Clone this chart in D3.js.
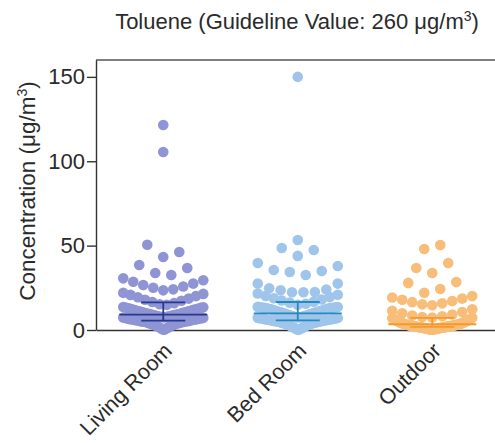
<!DOCTYPE html>
<html><head><meta charset="utf-8">
<script src="https://cdn.jsdelivr.net/npm/d3@7/dist/d3.min.js"></script>
<style>
body{margin:0;background:#fff}
svg{display:block}
text{font-family:"Liberation Sans", Arial, Helvetica, sans-serif;fill:#2a2a2a}
</style>
</head><body>
<svg id="chart" width="495" height="443"></svg>
<script>
// ---------------- data ----------------
const categories = ["Living Room", "Bed Room", "Outdoor"];

const livingRoom = [
  0.2, 0.5, 0.9, 1.2, 1.4, 1.8, 2.1, 2.3, 2.6, 2.8, 3.0, 3.3, 3.5, 3.6, 3.9, 4.0, 4.2, 4.4, 4.5, 4.7,
  4.8, 4.9, 5.0, 5.1, 5.2, 5.3, 5.4, 5.6, 5.7, 5.8, 5.9, 6.0, 6.1, 6.2, 6.3, 6.4, 6.5, 6.6, 6.8, 6.9,
  7.0, 7.1, 7.2, 7.4,
  7.5, 7.6, 7.8, 7.9, 8.1, 8.3, 8.5, 8.7, 8.9, 9.0, 9.2, 9.4, 9.5, 9.7, 9.9, 10.1, 10.3, 10.5, 10.7, 10.9,
  11.1, 11.3, 11.5, 11.7, 11.9, 12.1, 12.3, 12.5, 12.7, 12.9, 13.1, 13.3, 13.5, 13.6,
  14.9, 15.3, 15.9, 16.6, 17.3, 17.9, 18.6, 19.4, 20.1, 20.8, 21.4, 22.0,
  23.5, 24.1, 25.0, 25.8, 26.7, 27.5, 28.6, 29.5, 30.6,
  32.6, 33.8, 36.7, 38.5,
  43.3, 46.2, 50.5,
  105.5, 121.5
];

const bedRoom = [
  0.1, 0.4, 0.8, 1.1, 1.5, 1.7, 2.0, 2.4, 2.6, 2.9, 3.1, 3.4, 3.6, 3.8, 4.0, 4.2, 4.3, 4.5, 4.7, 4.8,
  5.0, 5.1, 5.2, 5.3, 5.4, 5.5, 5.6, 5.8, 5.9, 6.0, 6.1, 6.2, 6.3, 6.4, 6.6, 6.7, 6.8, 6.9, 7.0, 7.1,
  7.2, 7.4,
  7.5, 7.7, 7.8, 8.0, 8.2, 8.4, 8.6, 8.8, 9.1, 9.3, 9.5, 9.8, 10.0, 10.2, 10.4, 10.6, 10.8, 11.0, 11.2, 11.4,
  11.6, 11.8, 12.0, 12.2, 12.4, 12.6, 12.8, 12.9, 13.0, 13.1, 13.2, 13.3, 13.4, 13.5, 13.6, 13.7,
  14.9, 15.6, 16.2, 16.8, 17.5, 18.1, 18.8, 19.5, 20.2, 20.9, 21.6,
  22.4, 22.4, 22.5, 23.5, 24.0, 24.7, 27.5, 27.6,
  32.6, 34.4, 35.0, 35.6, 37.9, 39.7,
  43.9, 47.4, 48.6,
  53.3,
  150.0
];

const outdoor = [
  0.1, 0.2, 0.3, 0.3, 0.4, 0.5, 0.5, 0.6, 0.7, 0.7, 0.8, 0.9, 0.9, 1.0, 1.1, 1.1, 1.2, 1.3, 1.3, 1.4,
  1.4, 1.5, 1.5, 1.6, 1.6, 1.7, 1.7,
  1.8, 1.9, 1.9, 2.0, 2.0, 2.1, 2.1, 2.2, 2.2, 2.3, 2.3, 2.4, 2.5, 2.5, 2.6, 2.6, 2.7, 2.8, 2.8, 2.9,
  3.0, 3.0, 3.1, 3.2, 3.2, 3.3, 3.3,
  3.5, 3.6, 3.7, 3.8, 3.9, 4.0, 4.1, 4.2, 4.4, 4.5, 4.6, 4.8, 4.9, 5.0, 5.2, 5.3, 5.5, 5.6, 5.8, 5.9,
  6.1, 6.2, 6.4, 6.6, 6.8, 7.0, 7.2,
  7.4, 7.7, 8.1, 8.6, 9.2, 9.9, 10.6, 11.4, 12.3,
  14.7, 15.2, 15.8, 16.5, 17.2, 17.9, 18.6, 19.3, 20.1,
  22.1, 24.3, 27.9, 28.4,
  33.8, 36.7, 39.7,
  48.0, 50.4
];

// median and interquartile range, as drawn
const medians = [9.1, 9.9, 3.4];
const q1 = [5.5, 5.7, 1.8];
const q3 = [16.4, 16.6, 7.2];

const yTicks = [0, 50, 100, 150];

// ---------------- styles ----------------
const dotColors = ["#8f94d5", "#a0c5ea", "#f9bd7a"];
const barColors = ["#27398f", "#238ac2", "#f29b2c"];
const firstSide = [1, 1, -1];   // side of the first offset point in a row
const rowHeight = 7.3;          // value span grouped into one row of the scatter
const maxStep = 16, maxSpan = 80, dotR = 5.3;

// ---------------- chart ----------------
const svg = d3.select("#chart");
const x = d3.scalePoint().domain(categories).range([96, 499.5]).padding(0.5);
const y = d3.scaleLinear().domain([0, 160]).range([330, 60]);

// title
const title = svg.append("text")
  .attr("x", 297).attr("y", 29)
  .attr("text-anchor", "middle")
  .style("font-size", "22px");
title.append("tspan").text("Toluene (Guideline Value: 260 \u03bcg/m");
title.append("tspan").attr("dy", -8).style("font-size", "14px").text("3");
title.append("tspan").attr("dy", 8).text(")");

// y label
const yl = svg.append("text")
  .attr("transform", "translate(35,191) rotate(-90)")
  .attr("text-anchor", "middle")
  .style("font-size", "22.5px");
yl.append("tspan").text("Concentration (\u03bcg/m");
yl.append("tspan").attr("dy", -8).style("font-size", "14px").text("3");
yl.append("tspan").attr("dy", 8).text(")");

// top frame line
svg.append("line")
  .attr("x1", 96).attr("x2", 499.5)
  .attr("y1", y(160)).attr("y2", y(160))
  .attr("stroke", "#555").attr("stroke-width", 1.3);

// axes
const gy = svg.append("g").attr("transform", "translate(96,0)")
  .call(d3.axisLeft(y).tickValues(yTicks).tickSize(9).tickSizeOuter(0).tickPadding(2));
gy.selectAll("path,line").attr("stroke", "#333").attr("stroke-width", 1.4);
gy.selectAll("text").style("font-size", "22px").attr("fill", "#2a2a2a");

const gx = svg.append("g").attr("transform", "translate(0,330)")
  .call(d3.axisBottom(x).tickSize(5).tickSizeOuter(0).tickFormat(""));
gx.selectAll("path,line").attr("stroke", "#333").attr("stroke-width", 1.4);

svg.append("g").selectAll("text").data(categories).join("text")
  .attr("transform", d => `translate(${x(d) + 10},352) rotate(-45)`)
  .attr("text-anchor", "end")
  .style("font-size", "21.5px")
  .text(d => d);

// scatter layout: group sorted values into rows, spread each row horizontally
function layout(values, side) {
  const sorted = values.slice().sort((a, b) => a - b);
  const rows = [];
  let cur = null;
  for (const v of sorted) {
    if (!cur || v >= cur.start + rowHeight) { cur = { start: v, vals: [] }; rows.push(cur); }
    cur.vals.push(v);
  }
  const pts = [];
  for (const r of rows) {
    const n = r.vals.length;
    const s = n > 1 ? Math.min(maxStep, maxSpan / (n - 1)) : 0;
    r.vals.forEach((v, i) => {
      let off;
      if (n % 2 === 1) {
        const k = Math.ceil(i / 2);
        off = i === 0 ? 0 : (i % 2 === 1 ? side : -side) * k * s;
      } else {
        const k = Math.floor(i / 2) + 0.5;
        off = (i % 2 === 0 ? side : -side) * k * s;
      }
      pts.push({ v, off });
    });
  }
  return pts;
}

const series = [livingRoom, bedRoom, outdoor];
series.forEach((vals, gi) => {
  const cx = x(categories[gi]);
  const pts = layout(vals, firstSide[gi]);
  svg.append("g").selectAll("circle").data(pts).join("circle")
    .attr("cx", d => cx + d.off)
    .attr("cy", d => y(d.v))
    .attr("r", dotR)
    .attr("fill", dotColors[gi]);
});

// median and IQR bars
const bars = svg.append("g");
categories.forEach((c, gi) => {
  const cx = x(c);
  const g = bars.append("g").attr("stroke", barColors[gi]).attr("stroke-width", 1.8);
  g.append("line").attr("x1", cx - 44).attr("x2", cx + 44).attr("y1", y(medians[gi])).attr("y2", y(medians[gi]));
  g.append("line").attr("x1", cx - 22).attr("x2", cx + 22).attr("y1", y(q1[gi])).attr("y2", y(q1[gi]));
  g.append("line").attr("x1", cx - 22).attr("x2", cx + 22).attr("y1", y(q3[gi])).attr("y2", y(q3[gi]));
  g.append("line").attr("x1", cx).attr("x2", cx).attr("y1", y(q1[gi])).attr("y2", y(q3[gi]));
});
</script>
</body></html>
